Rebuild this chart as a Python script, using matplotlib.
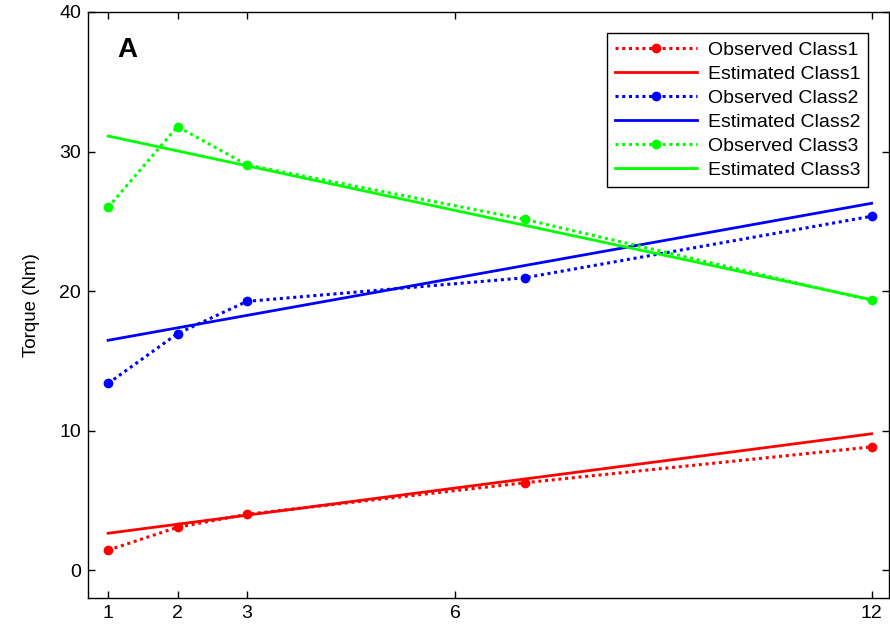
import matplotlib
matplotlib.use("Agg")
import matplotlib.pyplot as plt

plt.rcParams.update({
    "font.family": ["Liberation Sans", "DejaVu Sans"],
    "xtick.direction": "in",
    "ytick.direction": "in",
    "xtick.top": True,
    "ytick.right": True,
    "axes.linewidth": 1.0,
})

# ---- data ----
obs_x = [1, 2, 3, 7, 12]
obs_class1 = [1.43, 3.07, 4.0, 6.26, 8.83]
obs_class2 = [13.38, 16.95, 19.26, 20.95, 25.36]
obs_class3 = [26.0, 31.79, 29.04, 25.14, 19.33]

est_x = [1, 12]
est_class1 = [2.64, 9.77]
est_class2 = [16.47, 26.29]
est_class3 = [31.11, 19.38]

xticks = [1, 2, 3, 6, 12]
yticks = [0, 10, 20, 30, 40]

colors = ["#FF0000", "#0000FF", "#00FF00"]

fig = plt.figure(figsize=(8.9, 6.26), dpi=100)
ax = fig.add_axes([88 / 890, 1 - 598 / 626, 801 / 890, 586 / 626])

dot = (0, (1, 1.2))
series = [
    (obs_class1, est_class1, colors[0], "Class1"),
    (obs_class2, est_class2, colors[1], "Class2"),
    (obs_class3, est_class3, colors[2], "Class3"),
]
for obs, est, c, name in series:
    ax.plot(obs_x, obs, linestyle=dot, linewidth=2.2, color=c,
            marker="o", markersize=6, label="Observed " + name)
    ax.plot(est_x, est, linestyle="-", linewidth=2.0, color=c,
            label="Estimated " + name)

ax.set_xlim(0.71, 12.25)
ax.set_ylim(-2, 40)
ax.set_xticks(xticks)
ax.set_yticks(yticks)
ax.tick_params(labelsize=14, length=5, width=1, pad=5)
ax.set_ylabel("Torque (Nm)", fontsize=13.5, labelpad=14)

ax.text(0.037, 0.935, "A", transform=ax.transAxes, fontsize=20,
        fontweight="bold", va="center", ha="left")

leg = ax.legend(loc="upper right", bbox_to_anchor=(0.974, 0.964),
                fontsize=14, fancybox=False, framealpha=1,
                edgecolor="black", handlelength=4.2, handletextpad=0.55,
                labelspacing=0.33, borderpad=0.42, borderaxespad=0)
leg.get_frame().set_linewidth(1.0)

fig.savefig("out.png", dpi=100)
